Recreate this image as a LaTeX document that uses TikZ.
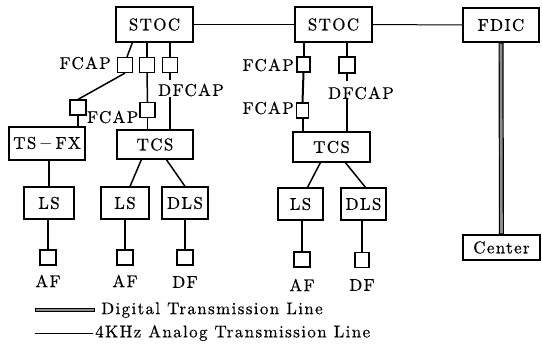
\documentclass[tikz,border=0pt]{standalone}
\usepackage{fontspec}
\newfontfamily\lbf{lmroman10-regular.otf}[LetterSpace=8, FakeBold=0.5]
\usetikzlibrary{calc}
\newcommand\lblfont{\lbf\fontsize{17}{20}\selectfont}
\tikzset{
  box/.style={draw, line width=1.2pt, inner sep=0pt, font=\lblfont},
  sq/.style={draw, line width=1.2pt, minimum width=15pt, minimum height=15pt, inner sep=0pt},
  wire/.style={line width=1.5pt},
  thickwire/.style={line width=2pt},
  thinwire/.style={line width=1pt},
  lbl/.style={font=\lblfont, inner sep=0pt},
  digital/.style={line width=5pt, draw=black},
  digitalin/.style={line width=2.6pt, draw=black!45},
}
\begin{document}
\begin{tikzpicture}[x=1pt, y=-1pt]
\useasboundingbox (0,0) rectangle (542,357);
% main boxes
\node[box, minimum width=77pt, minimum height=35pt] (stoc1) at (154.5,24.5) {STOC};
\node[box, minimum width=77pt, minimum height=35pt] (stoc2) at (333.5,24.5) {STOC};
\node[box, minimum width=76pt, minimum height=34pt] (fdic) at (501,25) {FDIC};
\node[box, minimum width=76pt, minimum height=33pt] (tsfx) at (47,143.5) {TS$\,-\,$FX};
\node[box, minimum width=76pt, minimum height=29pt] (tcs1) at (155,144.5) {TCS};
\node[box, minimum width=77pt, minimum height=30pt] (tcs2) at (331.5,147) {TCS};
\node[box, minimum width=50pt, minimum height=32pt] (ls1) at (49,203) {LS};
\node[box, minimum width=48pt, minimum height=32pt] (ls2) at (125,203) {LS};
\node[box, minimum width=46pt, minimum height=32pt] (dls1) at (185,203) {DLS};
\node[box, minimum width=45pt, minimum height=32pt] (ls3) at (300.5,204) {LS};
\node[box, minimum width=45pt, minimum height=32pt] (dls2) at (363.5,204) {DLS};
\node[box, minimum width=77pt, minimum height=25pt] (center) at (501.5,247.5) {Center};
% small boxes
\node[sq] (f1) at (125,65) {};
\node[sq] (f2) at (147,65) {};
\node[sq] (f3) at (170,65) {};
\node[sq, minimum width=16pt] (f4) at (78,107.5) {};
\node[sq] (f5) at (147.5,110) {};
\node[sq, minimum width=13pt] (f6) at (303.5,64.5) {};
\node[sq, minimum width=16pt, minimum height=16pt] (f7) at (347,65) {};
\node[sq, minimum width=12pt] (f8) at (302.5,110.5) {};
\node[sq, minimum width=16pt] (a1) at (48,257.5) {};
\node[sq, minimum width=16pt] (a2) at (125,257.5) {};
\node[sq, minimum width=16pt] (d1) at (185,257.5) {};
\node[sq, minimum width=16pt] (a3) at (302,259.5) {};
\node[sq, minimum width=14pt] (d2) at (362,260) {};
% labels
\node[lbl, anchor=east] (lf1) at (111,63) {FCAP};
\node[lbl, anchor=east] (lf4) at (138.5,117) {FCAP};
\node[lbl] (ldf1) at (191,90) {DFCAP};
\node[lbl, anchor=east] (lf6) at (294,65) {FCAP};
\node[lbl, anchor=east] (lf8) at (294,108) {FCAP};
\node[lbl] (ldf2) at (361,93) {DFCAP};
\node[lbl] (la1) at (48,281) {AF};
\node[lbl] (la2) at (125,281) {AF};
\node[lbl] (ld1) at (185,282) {DF};
\node[lbl] (la3) at (302,285) {AF};
\node[lbl] (ld2) at (362,285) {DF};
% connectors: top trunk
\draw[thinwire] (stoc1.east) -- (stoc2.west);
\draw[thinwire] (stoc2.east) -- (fdic.west);
% left STOC branches
\draw[wire] ($(stoc1.south west)+(17,0)$) -- ($(f1.north)+(2,0)$);
\draw[wire] (f1.south) -- (f4.north);
\draw[wire] (f4.south) -- (f4.south |- tsfx.north);
\draw[wire] (f2.north |- stoc1.south) -- (f2.north);
\draw[wire] (f2.south) -- (f5.north);
\draw[wire] (f5.south) -- (f5.south |- tcs1.north);
\draw[wire] (f3.north |- stoc1.south) -- (f3.north);
\coordinate (df1a) at ($(f3.south)+(0,7)$);
\coordinate (df1b) at ($(f3.south |- tcs1.north)+(0,-32)$);
\draw[wire] (f3.south) -- (df1a);
\draw[wire] (df1b) -- (df1b |- tcs1.north);
\draw[wire] (ls1.north |- tsfx.south) -- (ls1.north);
\draw[wire] ($(tcs1.south west)+(25,0)$) -- ($(ls2.north)+(5,0)$);
\draw[wire] ($(tcs1.south west)+(50,0)$) -- (dls1.north);
\draw[wire] (ls1.south -| a1.north) -- (a1.north);
\draw[wire] (ls2.south -| a2.north) -- (a2.north);
\draw[thickwire] (dls1.south) -- (d1.north);
% right STOC branches
\draw[thickwire] (f6.north |- stoc2.south) -- (f6.north);
\draw[thickwire] (f6.south) -- (f8.north);
\draw[thickwire] (f8.south) -- (f8.south |- tcs2.north);
\draw[thickwire] (f7.north |- stoc2.south) -- (f7.north);
\coordinate (df2a) at ($(f7.south)+(0,7)$);
\coordinate (df2b) at ($(f7.south |- tcs2.north)+(0,-32)$);
\draw[thickwire] (f7.south) -- (df2a);
\draw[wire] (df2b) -- (df2b |- tcs2.north);
\draw[wire] ($(tcs2.south west)+(28,0)$) -- ($(ls3.north)+(7,0)$);
\draw[wire] ($(tcs2.south west)+(53,0)$) -- ($(dls2.north)+(2,0)$);
\draw[thickwire] (ls3.south -| a3.north) -- (a3.north);
\draw[thickwire] (dls2.south -| d2.north) -- (d2.north);
% digital line FDIC - Center
\draw[digital] (fdic.south) -- (center.north);
\draw[digitalin] ($(fdic.south)+(0,1)$) -- ($(center.north)+(0,-1)$);
% legend
\coordinate (lg1a) at (35,310);
\coordinate (lg1b) at (95,310);
\coordinate (lg2a) at (35,333);
\coordinate (lg2b) at (93,333);
\draw[line width=4pt] (lg1a) -- (lg1b);
\draw[line width=1.8pt, black!45] ($(lg1a)+(1,0)$) -- ($(lg1b)+(-1,0)$);
\draw[thinwire] (lg2a) -- (lg2b);
\node[lbl, anchor=west] (lt1) at (101,310) {Digital Transmission Line};
\node[lbl, anchor=west] (lt2) at (95,333) {4KHz Analog Transmission Line};
\end{tikzpicture}
\end{document}
